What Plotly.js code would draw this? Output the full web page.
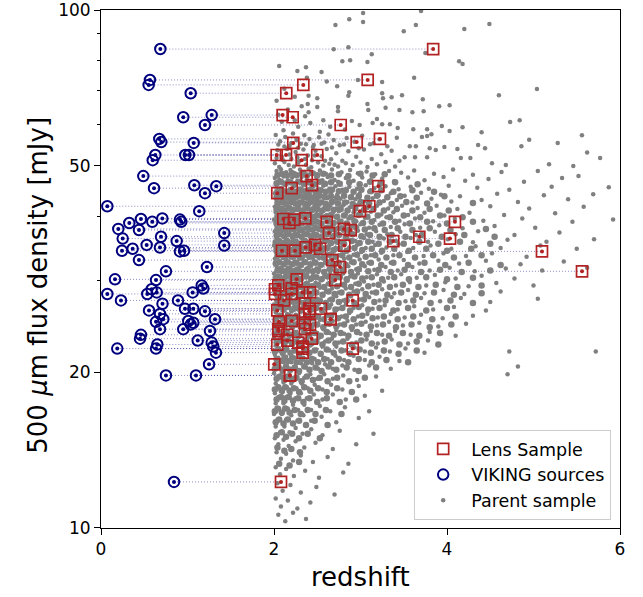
<!DOCTYPE html>
<html>
<head>
<meta charset="utf-8">
<script src="https://cdn.plot.ly/plotly-3.0.1.min.js"></script>
<style>html,body{margin:0;padding:0;background:#fff;}#chart{width:643px;height:597px;}</style>
</head>
<body>
<div id="chart"></div>
<script>
// Lens / VIKING pairs: 500um flux [mJy], lens redshift, VIKING redshift
const pairFlux = [84.1,73.3,71.7,69.1,62.7,62.1,60.0,56.4,55.6,55.4,52.5,52.5,52.5,51.3,47.8,45.9,45.7,45.3,44.3,41.8,40.9,39.6,39.5,39.4,39.0,39.0,38.8,37.8,37.6,37.1,36.5,36.2,35.8,35.2,35.1,34.8,34.6,34.3,34.3,34.2,32.9,31.9,31.3,30.2,30.1,29.4,29.0,28.9,28.5,28.5,28.3,28.3,27.5,27.5,27.1,26.5,26.5,26.3,26.2,25.9,25.3,25.3,25.0,25.1,24.9,24.7,24.2,24.2,24.0,23.6,23.2,23.0,22.8,22.6,22.4,22.2,22.2,21.8,20.7,19.7,19.7,12.27];
const lensZ = [3.84,3.083,2.339,2.142,2.10,2.216,2.771,3.225,2.956,2.223,2.031,2.139,2.50,2.32,2.378,2.439,3.206,2.205,2.038,3.102,2.994,2.362,2.108,2.231,4.092,2.609,2.177,2.809,2.887,2.636,3.68,4.035,3.379,2.474,2.813,2.366,2.532,2.092,2.243,5.098,2.674,2.763,5.561,2.262,2.709,2.05,2.205,2.012,2.327,2.416,2.205,2.012,2.116,2.91,2.358,2.408,2.543,2.038,2.408,2.358,2.655,2.655,2.058,2.205,2.358,2.416,2.05,2.358,2.05,2.154,2.436,2.154,2.281,2.038,2.332,2.91,2.332,2.332,2.003,2.185,2.185,2.081];
const vikingZ = [0.686,0.566,0.551,1.037,1.28,0.951,1.202,0.674,0.697,1.072,0.628,0.975,1.017,0.598,0.489,1.079,1.333,0.613,1.202,0.073,1.136,0.709,0.462,0.913,0.928,0.593,0.327,0.20,0.439,1.425,0.694,0.251,0.875,0.528,1.425,0.682,0.366,0.243,0.96,0.913,0.439,1.225,0.751,0.162,0.636,1.164,1.183,0.586,0.644,1.06,0.535,0.073,0.231,0.89,0.711,1.067,0.971,0.555,1.202,0.682,0.72,1.318,0.636,1.009,1.067,1.037,0.682,0.951,1.26,0.462,0.451,1.118,1.28,0.651,1.298,0.636,0.188,1.329,1.249,0.751,1.098,0.844];

// Parent sample [redshift, flux], by flux band
const parentA = [[2.71,93.6],[2.87,96],[3.03,98.7],[3.03,94.8],[3.70,99.6],[3.64,93.6],[3.50,91],[4.20,91.9],[4.49,94],[2.69,84],[2.86,84.8],[3.13,82.2],[3.75,82.6],[2.79,79.7],[2.88,80],[3.08,79.4],[4.14,79.7],[4.18,78.7],[2.06,78],[2.27,76.3],[2.37,77.6],[2.55,75.9],
[2.38,74],[2.97,73.3],[3.25,72.6],[3.62,74],[2.73,71.3],[2.87,69.4],[2.86,68.3],[3.25,69.1],[3.26,67.6],[3.36,67.9],[3.48,68.5],[3.72,67.3],[5.04,70.4],[4.60,68.5],[2.40,68.3],[2.50,67.6],[2.24,68],[2.12,70.5],[2.03,66.8],[2.61,72.8],
[2.32,65.2],[2.39,65.9],[2.50,65],[2.74,65],[2.74,63.8],[3.08,65.9],[3.09,64.1],[3.29,64.8],[3.45,64.1],[3.60,63.5],[3.73,63.8],[3.91,65.2],[4.03,65.5],[2.40,63.5],[2.36,62.4],[2.24,61.3],[2.28,59.5],[2.42,60.5],[2.57,61.3],[2.65,59.5],[2.90,61.1],[2.99,60],[3.19,61.6],[3.25,60.2],[3.14,60.5],[3.34,60.2],[3.43,59.2],[3.61,58.9],[3.77,58.9],[3.94,59.7],[4.03,58.4],[4.18,59.4],[4.73,60.8],[4.84,61.3],[4.40,58.1],[5.56,57.3],[2.05,62.8],[2.11,58.6],[2.16,64.3],[2.53,58.2],[2.82,58.8],[2.09,60.9]];
const parentB = [[5.28,55.4],[4.86,54.6],[4.36,54.9],[4.44,54.1],[5.77,51.8],[5.46,50],[5.18,50.4],[4.68,50.2],[4.52,50.6],[4.16,51.8],[4.27,51.8],[4.12,53.9],[3.97,54.4],[3.87,53.7],[3.80,54.1],[3.77,52],[3.63,52],[3.51,52],[3.57,54.6],[3.64,54.6],[3.71,56.9],[3.77,57.1],[3.82,57.6],[4.95,56.2],[5.62,53.1],
[2.02,57.4],[2.07,55.8],[2.13,56.9],[2.18,54.7],[2.22,57.8],[2.26,56.1],[2.31,55.2],[2.35,57.3],[2.41,56.4],[2.46,54.9],[2.52,56.8],[2.58,55.5],[2.63,57.5],[2.69,56.1],[2.76,54.8],[2.84,56.6],[2.93,55.7],[3.02,57.2],[3.11,55.1],[3.22,56.3],[3.31,54.6],[3.42,56.7],
[2.04,53.6],[2.09,52.1],[2.15,53.9],[2.20,51.6],[2.25,53.2],[2.29,51.1],[2.34,53.8],[2.39,52.4],[2.44,51.3],[2.48,53.5],[2.55,52.2],[2.61,53.9],[2.66,51.5],[2.72,52.9],[2.79,51.2],[2.86,53.4],[2.95,52.1],[3.04,53.8],[3.13,51.6],[3.24,52.7],[3.36,53.5],[3.45,51.2],
[2.01,50.6],[2.06,49.8],[2.12,50.9],[2.17,50.2],[2.23,49.9],[2.28,50.7],[2.37,50.3],[2.43,49.7],[2.51,50.8],[2.57,50.1],[2.64,50.5],[2.74,49.9],[2.83,50.6],[2.91,50.2],[3.00,50.8],[3.08,49.8],[3.19,50.4],[3.29,50.9],[3.40,49.9],
[2.05,55.0],[2.12,54.5],[2.20,55.4],[2.28,54.2],[2.37,55.1],[2.45,54.4],[2.55,55.2],[2.67,54.3],[2.81,55.0],[2.98,54.1],[3.15,55.3],[2.03,51.8],[2.10,51.4],[2.18,52.6],[2.27,52.0],[2.36,51.6],[2.47,52.4],[2.59,51.2],[2.70,50.3]];
const parentC = [[2.03,48.9],[2.08,49.3],[2.14,48.6],[2.19,49.1],[2.24,48.4],[2.30,49.2],[2.35,48.7],[2.40,49.4],[2.46,48.5],[2.53,49.0],[2.60,48.3],[2.67,49.2],[2.78,48.6],[2.88,49.1],[2.97,48.4],[3.07,48.8],[3.17,48.2],[3.33,48.9],[3.47,48.5],[3.62,49.0],[3.85,48.3],[4.07,49.2],[4.30,48.1],[4.63,48.7],[5.05,48.9],[5.52,47.8],
[2.01,47.4],[2.06,47.0],[2.11,47.7],[2.16,46.9],[2.21,47.5],[2.27,46.8],[2.32,47.6],[2.38,47.1],[2.43,46.7],[2.49,47.5],[2.56,46.9],[2.62,47.6],[2.70,47.0],[2.74,46.6],[2.83,47.4],[2.92,46.8],[3.02,47.5],[3.12,46.9],[3.25,47.3],[3.39,46.7],[3.55,47.5],[3.74,46.9],[3.96,47.6],[4.21,46.8],[4.48,47.2],[4.89,46.6],[5.33,47.4],
[2.03,45.8],[2.08,45.3],[2.13,46.0],[2.18,45.1],[2.23,45.7],[2.29,45.2],[2.34,45.9],[2.39,45.0],[2.45,45.6],[2.51,45.1],[2.57,45.8],[2.64,45.2],[2.71,45.7],[2.79,45.0],[2.87,45.6],[2.96,45.2],[3.06,45.9],[3.16,45.3],[3.29,45.7],[3.44,45.1],[3.58,45.6],[3.79,45.2],[4.02,45.8],[4.35,45.4],[4.72,45.0],[5.21,45.6],[5.87,45.5],
[2.01,44.3],[2.06,44.0],[2.10,44.5],[2.15,43.9],[2.20,44.4],[2.25,44.1],[2.31,44.6],[2.36,43.8],[2.41,44.3],[2.47,44.0],[2.53,44.5],[2.59,43.9],[2.66,44.4],[2.73,44.0],[2.81,44.5],[2.90,43.8],[2.99,44.2],[3.10,44.6],[3.21,43.9],[3.35,44.3],[3.51,43.8],[3.70,44.4],[3.93,44.0],[4.15,43.7],[4.58,44.2],[5.12,43.9],[5.69,44.1],
[2.03,42.9],[2.08,43.3],[2.12,42.6],[2.17,43.1],[2.22,42.7],[2.27,43.4],[2.33,42.8],[2.38,43.2],[2.44,42.6],[2.50,43.1],[2.56,42.7],[2.62,43.3],[2.69,42.8],[2.77,43.2],[2.85,42.6],[2.94,43.1],[3.04,42.7],[3.14,43.3],[3.27,42.8],[3.42,43.0],[3.60,42.5],[3.82,43.2],[4.05,42.7],[4.40,43.0],[4.82,42.6],[5.40,43.1]];
const parentD = [[2.01,41.7],[2.05,42.1],[2.10,41.5],[2.14,42.0],[2.19,41.6],[2.24,42.2],[2.29,41.8],[2.35,41.4],[2.40,42.0],[2.46,41.6],[2.52,42.1],[2.58,41.5],[2.65,41.9],[2.72,41.4],[2.80,42.0],[2.88,41.6],[2.97,42.1],[3.08,41.5],[3.19,41.9],[3.32,41.4],[3.48,41.9],[3.66,41.5],[3.88,41.9],[4.12,41.3],[4.50,41.8],[4.95,41.4],[5.58,41.7],
[2.02,40.7],[2.07,40.3],[2.11,40.9],[2.16,40.4],[2.21,40.8],[2.26,40.2],[2.32,40.7],[2.37,40.3],[2.43,40.9],[2.49,40.4],[2.55,40.8],[2.61,40.2],[2.68,40.6],[2.75,40.9],[2.83,40.3],[2.92,40.7],[3.01,40.2],[3.12,40.8],[3.24,40.3],[3.38,40.7],[3.55,40.2],[3.74,40.6],[3.97,40.1],[4.26,40.6],[4.66,40.2],[5.25,40.5],
[2.00,39.4],[2.04,39.8],[2.09,39.2],[2.13,39.7],[2.18,39.3],[2.23,39.9],[2.28,39.4],[2.34,39.8],[2.39,39.2],[2.45,39.6],[2.51,39.1],[2.57,39.7],[2.64,39.3],[2.71,39.8],[2.78,39.2],[2.86,39.6],[2.95,39.1],[3.05,39.7],[3.16,39.3],[3.30,39.8],[3.45,39.2],[3.63,39.6],[3.84,39.1],[4.09,39.5],[4.42,39.2],[4.87,39.6],[5.45,39.0],[5.92,39.4],
[2.02,38.5],[2.06,38.1],[2.11,38.6],[2.15,38.2],[2.20,38.7],[2.25,38.1],[2.30,38.5],[2.36,38.0],[2.41,38.6],[2.47,38.2],[2.53,38.7],[2.60,38.1],[2.67,38.5],[2.74,38.0],[2.82,38.6],[2.90,38.2],[3.00,38.6],[3.10,38.0],[3.22,38.5],[3.35,38.1],[3.51,38.6],[3.69,38.0],[3.91,38.4],[4.18,37.9],[4.55,38.3],[5.02,38.0],
[2.01,37.4],[2.05,37.0],[2.10,37.5],[2.14,37.1],[2.19,37.6],[2.24,37.0],[2.29,37.4],[2.34,36.9],[2.40,37.5],[2.46,37.1],[2.52,37.6],[2.58,37.0],[2.65,37.4],[2.72,36.9],[2.80,37.5],[2.88,37.1],[2.97,37.5],[3.07,36.9],[3.18,37.4],[3.31,36.9],[3.46,37.3],[3.64,36.8],[3.86,37.3],[4.10,36.9],[4.36,37.4],[4.78,36.8],[5.30,37.2],
[2.03,36.2],[2.07,35.8],[2.12,36.4],[2.16,35.9],[2.21,36.3],[2.26,35.8],[2.31,36.4],[2.37,35.9],[2.43,36.3],[2.49,35.8],[2.55,36.4],[2.62,35.9],[2.69,36.3],[2.77,35.7],[2.85,36.2],[2.94,35.8],[3.04,36.3],[3.14,35.7],[3.27,36.2],[3.41,35.8],[3.58,36.3],[3.78,35.7],[4.01,36.1],[4.30,35.6],[4.70,36.0],[5.15,35.7],[5.70,36.1],
[2.00,35.1],[2.04,34.8],[2.09,35.3],[2.13,34.9],[2.18,35.4],[2.23,34.8],[2.28,35.2],[2.33,34.7],[2.39,35.3],[2.45,34.9],[2.51,35.4],[2.57,34.8],[2.64,35.2],[2.71,34.7],[2.79,35.3],[2.87,34.8],[2.96,35.2],[3.06,34.7],[3.17,35.2],[3.30,34.8],[3.44,35.3],[3.61,34.7],[3.81,35.1],[4.05,34.6],[4.33,35.0],[4.62,34.7],[5.08,35.1],[5.50,34.6]];
const parentE = [[2.02,34.1],[2.06,33.8],[2.11,34.3],[2.15,33.9],[2.20,34.3],[2.25,33.8],[2.30,34.2],[2.36,33.7],[2.42,34.2],[2.48,33.8],[2.54,34.3],[2.61,33.7],[2.68,34.1],[2.75,33.6],[2.83,34.2],[2.92,33.7],[3.01,34.1],[3.12,33.6],[3.24,34.0],[3.38,33.6],[3.54,34.1],[3.73,33.5],[3.96,33.9],[4.22,33.5],[4.52,33.9],[4.92,33.4],
[2.01,33.1],[2.05,32.7],[2.10,33.2],[2.14,32.8],[2.19,33.3],[2.24,32.7],[2.29,33.1],[2.34,32.6],[2.40,33.2],[2.46,32.8],[2.52,33.2],[2.59,32.6],[2.66,33.0],[2.73,32.5],[2.81,33.1],[2.89,32.6],[2.99,33.0],[3.09,32.5],[3.21,33.0],[3.35,32.5],[3.50,32.9],[3.68,32.4],[3.90,32.8],[4.14,32.4],[4.45,32.8],[4.85,32.3],[5.35,32.7],
[2.03,32.0],[2.07,31.7],[2.12,32.2],[2.16,31.8],[2.21,32.2],[2.26,31.7],[2.31,32.1],[2.37,31.6],[2.43,32.1],[2.49,31.7],[2.56,32.2],[2.63,31.6],[2.70,32.0],[2.78,31.5],[2.86,32.0],[2.95,31.6],[3.05,32.0],[3.16,31.5],[3.29,31.9],[3.43,31.4],[3.60,31.9],[3.80,31.4],[4.03,31.8],[4.32,31.3],[4.68,31.7],[5.10,31.4],[5.62,31.8],
[2.00,31.0],[2.04,30.7],[2.09,31.2],[2.13,30.8],[2.18,31.2],[2.23,30.7],[2.28,31.1],[2.33,30.6],[2.39,31.1],[2.45,30.7],[2.51,31.2],[2.58,30.6],[2.65,31.0],[2.72,30.5],[2.80,31.0],[2.88,30.6],[2.97,31.0],[3.07,30.5],[3.19,30.9],[3.32,30.4],[3.47,30.9],[3.65,30.4],[3.86,30.8],[4.10,30.3],[4.40,30.7],[4.78,30.3],
[2.02,30.0],[2.06,29.7],[2.11,30.2],[2.15,29.8],[2.20,30.2],[2.25,29.7],[2.30,30.1],[2.36,29.6],[2.42,30.1],[2.48,29.7],[2.55,30.1],[2.62,29.6],[2.69,30.0],[2.77,29.5],[2.85,30.0],[2.94,29.6],[3.04,29.9],[3.15,29.5],[3.27,29.9],[3.41,29.4],[3.57,29.8],[3.76,29.4],[3.98,29.8],[4.25,29.3],[4.57,29.7],[5.00,29.4],
[2.01,29.1],[2.05,28.7],[2.10,29.2],[2.14,28.8],[2.19,29.2],[2.24,28.7],[2.29,29.1],[2.34,28.6],[2.40,29.1],[2.46,28.7],[2.53,29.1],[2.60,28.6],[2.67,29.0],[2.75,28.5],[2.83,29.0],[2.92,28.6],[3.02,28.9],[3.13,28.5],[3.25,28.9],[3.39,28.4],[3.55,28.8],[3.74,28.4],[3.96,28.8],[4.20,28.3],[4.62,28.6],
[2.03,28.0],[2.07,27.7],[2.12,28.2],[2.16,27.8],[2.21,28.2],[2.26,27.7],[2.31,28.1],[2.37,27.6],[2.43,28.1],[2.50,27.7],[2.57,28.1],[2.64,27.6],[2.72,28.0],[2.80,27.5],[2.89,28.0],[2.99,27.6],[3.10,27.9],[3.22,27.5],[3.36,27.9],[3.52,27.4],[3.70,27.8],[3.92,27.4],[4.16,27.8],[4.50,27.3],[5.05,27.7],
[2.00,27.0],[2.04,26.7],[2.09,27.2],[2.13,26.8],[2.18,27.2],[2.23,26.7],[2.28,27.1],[2.33,26.6],[2.39,27.1],[2.45,26.7],[2.52,27.1],[2.59,26.6],[2.66,27.0],[2.74,26.5],[2.83,27.0],[2.92,26.6],[3.02,26.9],[3.14,26.5],[3.28,26.9],[3.43,26.4],[3.62,26.8],[3.84,26.4],[4.08,26.7],[4.45,26.3]];
const parentF = [[2.02,26.1],[2.06,25.8],[2.11,26.3],[2.15,25.9],[2.20,26.2],[2.25,25.8],[2.30,26.2],[2.36,25.7],[2.42,26.2],[2.48,25.8],[2.55,26.2],[2.62,25.7],[2.70,26.0],[2.78,25.6],[2.87,26.0],[2.97,25.6],[3.08,25.9],[3.20,25.5],[3.35,25.9],[3.51,25.5],[3.70,25.8],[3.95,25.4],[4.30,25.7],
[2.01,25.2],[2.05,24.9],[2.10,25.3],[2.14,24.9],[2.19,25.3],[2.24,24.8],[2.29,25.2],[2.34,24.8],[2.40,25.2],[2.46,24.8],[2.53,25.2],[2.60,24.7],[2.68,25.1],[2.76,24.7],[2.85,25.1],[2.95,24.7],[3.06,25.0],[3.19,24.6],[3.33,25.0],[3.49,24.6],[3.68,24.9],[3.90,24.5],[4.22,24.8],
[2.03,24.2],[2.07,23.9],[2.12,24.3],[2.16,24.0],[2.21,24.4],[2.26,23.9],[2.31,24.3],[2.37,23.8],[2.43,24.2],[2.50,23.8],[2.57,24.2],[2.64,23.8],[2.72,24.1],[2.81,23.7],[2.90,24.1],[3.00,23.7],[3.12,24.0],[3.25,23.6],[3.40,24.0],[3.58,23.6],[3.80,23.9],[4.10,23.5],
[2.00,23.3],[2.04,23.0],[2.09,23.4],[2.13,23.1],[2.18,23.5],[2.23,23.0],[2.28,23.4],[2.33,22.9],[2.39,23.3],[2.45,22.9],[2.52,23.3],[2.59,22.9],[2.67,23.2],[2.75,22.8],[2.85,23.2],[2.95,22.8],[3.07,23.1],[3.20,22.7],[3.36,23.1],[3.55,22.7],[3.78,23.0],
[2.02,22.5],[2.06,22.2],[2.11,22.6],[2.15,22.2],[2.20,22.6],[2.25,22.1],[2.30,22.5],[2.36,22.1],[2.42,22.5],[2.49,22.1],[2.56,22.4],[2.64,22.0],[2.72,22.4],[2.82,22.0],[2.93,22.3],[3.05,21.9],[3.18,22.3],[3.34,21.9],[3.52,22.2],[3.74,21.8],[4.72,21.9],[5.72,21.9],
[2.01,21.6],[2.05,21.3],[2.10,21.7],[2.14,21.4],[2.19,21.8],[2.24,21.3],[2.29,21.7],[2.34,21.3],[2.40,21.6],[2.47,21.2],[2.54,21.6],[2.62,21.2],[2.71,21.5],[2.81,21.1],[2.92,21.5],[3.05,21.1],[3.22,21.4],[3.45,21.0]];
const parentG = [[2.02,20.8],[2.06,20.5],[2.11,20.9],[2.15,20.5],[2.20,20.9],[2.25,20.4],[2.31,20.8],[2.37,20.4],[2.44,20.8],[2.51,20.3],[2.59,20.7],[2.68,20.3],[2.79,20.6],[2.93,20.2],[3.10,20.6],[3.35,20.3],[4.82,20.5],
[2.00,19.9],[2.04,19.6],[2.09,20.0],[2.13,19.6],[2.18,20.0],[2.23,19.5],[2.29,19.9],[2.35,19.5],[2.42,19.8],[2.50,19.4],[2.58,19.8],[2.68,19.4],[2.80,19.7],[2.96,19.3],[3.18,19.6],[4.70,19.8],
[2.02,19.0],[2.06,18.7],[2.11,19.1],[2.15,18.7],[2.20,19.0],[2.26,18.6],[2.32,19.0],[2.39,18.6],[2.47,18.9],[2.56,18.5],[2.66,18.9],[2.79,18.5],[2.98,18.8],[3.25,18.4],
[2.01,18.2],[2.05,17.9],[2.10,18.3],[2.14,17.9],[2.19,18.2],[2.25,17.8],[2.31,18.2],[2.38,17.8],[2.46,18.1],[2.56,17.7],[2.68,18.1],[2.83,17.7],[3.05,18.0],
[2.02,17.4],[2.06,17.0],[2.11,17.4],[2.16,17.0],[2.22,17.3],[2.28,16.9],[2.35,17.3],[2.43,16.9],[2.53,17.2],[2.65,16.8],[2.82,17.1],[3.10,16.8],
[2.00,16.6],[2.04,16.2],[2.09,16.6],[2.14,16.2],[2.20,16.5],[2.27,16.1],[2.34,16.5],[2.43,16.1],[2.55,16.4],[2.72,16.0],[2.98,16.3],
[2.02,15.7],[2.07,15.3],[2.12,15.7],[2.18,15.3],[2.25,15.6],[2.33,15.2],[2.43,15.5],[2.56,15.1],[2.76,15.4],[3.15,15.2],
[2.01,14.9],[2.05,14.5],[2.11,14.8],[2.17,14.4],[2.25,14.7],[2.35,14.3],[2.48,14.6],[2.68,14.2],[2.95,14.5],
[2.03,14.0],[2.08,13.6],[2.14,13.9],[2.22,13.5],[2.31,13.8],[2.45,13.4],[2.62,13.7],[2.86,13.3],
[2.02,13.1],[2.07,12.7],[2.14,13.0],[2.23,12.6],[2.36,12.9],[2.52,12.5],[2.80,12.8],
[2.04,12.2],[2.10,11.8],[2.19,12.1],[2.31,11.7],[2.49,12.0],[2.70,11.6],
[2.02,11.4],[2.08,11.0],[2.16,11.3],[2.27,10.9],[2.42,11.2],
[2.05,10.6],[2.13,10.3],[2.22,10.7],[2.37,10.4]];
// dense core of the parent sample (z ~2-3.5), read as an almost solid patch
const parentCore1 = [[2.04,48.0],[2.09,48.3],[2.15,47.9],[2.21,48.4],[2.26,48.0],[2.32,48.3],[2.38,47.9],[2.44,48.4],[2.50,48.0],[2.57,48.3],[2.66,47.9],[2.75,48.2],[2.86,47.8],[3.00,48.3],[3.14,47.9],[3.28,48.2],
[2.03,46.3],[2.08,46.6],[2.13,46.2],[2.19,46.5],[2.24,46.1],[2.30,46.6],[2.35,46.2],[2.41,46.5],[2.47,46.1],[2.53,46.6],[2.59,46.2],[2.66,46.5],[2.76,46.2],[2.87,46.5],[2.99,46.1],[3.11,46.6],[3.23,46.2],[3.40,46.5],[3.66,46.1],
[2.04,44.7],[2.09,45.0],[2.14,44.6],[2.20,44.9],[2.25,44.6],[2.31,45.0],[2.36,44.7],[2.42,45.0],[2.48,44.6],[2.54,44.9],[2.60,44.6],[2.67,45.0],[2.75,44.7],[2.83,44.9],[2.92,44.6],[3.01,45.0],[3.12,44.7],[3.24,44.9],[3.38,44.6],[3.60,44.9],[3.85,44.6],
[2.03,43.5],[2.08,43.8],[2.13,43.4],[2.19,43.7],[2.24,43.4],[2.30,43.8],[2.35,43.5],[2.41,43.7],[2.47,43.4],[2.53,43.8],[2.59,43.5],[2.66,43.7],[2.73,43.4],[2.81,43.8],[2.89,43.5],[2.98,43.7],[3.08,43.4],[3.19,43.8],[3.31,43.5],[3.46,43.7],[3.65,43.4],[3.97,43.7],
[2.04,42.3],[2.09,42.5],[2.14,42.2],[2.20,42.6],[2.25,42.3],[2.30,42.5],[2.36,42.2],[2.42,42.6],[2.48,42.3],[2.54,42.5],[2.60,42.2],[2.67,42.6],[2.74,42.3],[2.82,42.5],[2.91,42.2],[3.00,42.6],[3.10,42.3],[3.22,42.5],[3.36,42.2],[3.53,42.6],[3.77,42.3],[4.30,42.4],
[2.03,41.1],[2.08,41.3],[2.12,41.0],[2.17,41.4],[2.22,41.1],[2.27,41.3],[2.33,41.0],[2.38,41.4],[2.44,41.1],[2.50,41.3],[2.56,41.0],[2.62,41.4],[2.69,41.1],[2.77,41.3],[2.85,41.0],[2.94,41.4],[3.04,41.1],[3.15,41.3],[3.27,41.0],[3.42,41.3],[3.60,41.0],[3.80,41.3],[4.02,41.0],
[2.04,40.0],[2.09,40.2],[2.14,39.9],[2.19,40.2],[2.24,39.9],[2.30,40.1],[2.35,39.8],[2.41,40.2],[2.47,39.9],[2.53,40.1],[2.59,39.8],[2.66,40.2],[2.73,39.9],[2.81,40.1],[2.89,39.8],[2.98,40.2],[3.08,39.9],[3.20,40.1],[3.34,39.8],[3.50,40.1],[3.69,39.8],[3.92,40.1],[4.18,39.8],
[2.03,38.9],[2.07,39.1],[2.12,38.8],[2.16,39.1],[2.21,38.8],[2.27,39.0],[2.32,38.7],[2.38,39.1],[2.43,38.8],[2.49,39.0],[2.55,38.7],[2.62,39.1],[2.69,38.8],[2.76,39.0],[2.84,38.7],[2.93,39.1],[3.03,38.8],[3.13,39.0],[3.26,38.7],[3.40,39.0],[3.57,38.7],[3.77,39.0],[4.00,38.7],[4.30,39.0],
[2.04,37.8],[2.08,38.0],[2.13,37.7],[2.18,38.0],[2.23,37.7],[2.28,37.9],[2.33,37.6],[2.39,38.0],[2.44,37.7],[2.50,37.9],[2.56,37.6],[2.63,38.0],[2.70,37.7],[2.78,37.9],[2.86,37.6],[2.95,38.0],[3.05,37.7],[3.16,37.9],[3.28,37.6],[3.43,37.9],[3.60,37.6],[3.80,37.9],[4.04,37.6],[4.45,37.8],
[2.03,36.7],[2.07,36.9],[2.12,36.6],[2.17,36.9],[2.22,36.6],[2.27,36.8],[2.32,36.5],[2.38,36.9],[2.43,36.6],[2.49,36.8],[2.55,36.5],[2.61,36.9],[2.68,36.6],[2.75,36.8],[2.83,36.5],[2.91,36.9],[3.01,36.6],[3.11,36.8],[3.22,36.5],[3.36,36.8],[3.52,36.5],[3.71,36.8],[3.94,36.5],[4.20,36.8],[4.55,36.5],
[2.02,35.6],[2.06,35.8],[2.11,35.5],[2.15,35.8],[2.20,35.5],[2.25,35.7],[2.30,35.4],[2.35,35.8],[2.41,35.5],[2.47,35.7],[2.53,35.4],[2.59,35.8],[2.66,35.5],[2.73,35.7],[2.81,35.4],[2.90,35.8],[2.99,35.5],[3.09,35.7],[3.21,35.4],[3.34,35.7],[3.50,35.4],[3.68,35.7],[3.90,35.4],[4.15,35.7],[4.50,35.4],
[2.03,34.5],[2.07,34.7],[2.11,34.4],[2.16,34.7],[2.21,34.4],[2.26,34.6],[2.31,34.3],[2.37,34.7],[2.43,34.4],[2.49,34.6],[2.55,34.3],[2.62,34.7],[2.69,34.4],[2.76,34.6],[2.84,34.3],[2.93,34.7],[3.02,34.4],[3.13,34.6],[3.25,34.3],[3.39,34.6],[3.56,34.3],[3.76,34.6],[4.00,34.3],[4.28,34.6]];
const parentCore2 = [[2.04,33.5],[2.08,33.7],[2.13,33.4],[2.17,33.7],[2.22,33.4],[2.27,33.6],[2.32,33.3],[2.38,33.7],[2.44,33.4],[2.50,33.6],[2.57,33.3],[2.64,33.7],[2.71,33.4],[2.79,33.6],[2.87,33.3],[2.96,33.7],[3.06,33.4],[3.17,33.6],[3.30,33.3],[3.45,33.6],[3.63,33.3],[3.84,33.6],[4.08,33.3],[4.40,33.6],
[2.02,32.4],[2.06,32.6],[2.11,32.3],[2.16,32.6],[2.21,32.3],[2.26,32.5],[2.31,32.2],[2.36,32.6],[2.42,32.3],[2.48,32.5],[2.54,32.2],[2.61,32.6],[2.68,32.3],[2.75,32.5],[2.83,32.2],[2.92,32.6],[3.02,32.3],[3.12,32.5],[3.24,32.2],[3.38,32.5],[3.55,32.2],[3.74,32.5],[3.98,32.2],[4.25,32.5],[4.62,32.2],
[2.04,31.4],[2.08,31.6],[2.13,31.3],[2.18,31.6],[2.23,31.3],[2.28,31.5],[2.33,31.2],[2.39,31.6],[2.45,31.3],[2.51,31.5],[2.58,31.2],[2.65,31.6],[2.72,31.3],[2.80,31.5],[2.89,31.2],[2.98,31.6],[3.09,31.3],[3.21,31.5],[3.35,31.2],[3.51,31.5],[3.70,31.2],[3.92,31.5],[4.17,31.2],[4.50,31.4],
[2.02,30.4],[2.06,30.6],[2.11,30.3],[2.16,30.6],[2.21,30.3],[2.26,30.5],[2.31,30.2],[2.37,30.6],[2.43,30.3],[2.49,30.5],[2.55,30.2],[2.62,30.6],[2.69,30.3],[2.76,30.5],[2.84,30.2],[2.93,30.6],[3.02,30.3],[3.13,30.5],[3.25,30.2],[3.39,30.5],[3.56,30.2],[3.76,30.5],[4.00,30.2],[4.30,30.4],
[2.03,29.4],[2.07,29.6],[2.12,29.3],[2.17,29.6],[2.22,29.3],[2.27,29.5],[2.32,29.2],[2.38,29.6],[2.44,29.3],[2.51,29.5],[2.58,29.2],[2.65,29.6],[2.73,29.3],[2.81,29.5],[2.89,29.2],[2.98,29.6],[3.09,29.3],[3.21,29.5],[3.34,29.2],[3.49,29.5],[3.67,29.2],[3.87,29.5],[4.12,29.2],[4.40,29.4],
[2.02,28.4],[2.06,28.6],[2.11,28.3],[2.16,28.6],[2.21,28.3],[2.26,28.5],[2.31,28.2],[2.37,28.6],[2.43,28.3],[2.49,28.5],[2.56,28.2],[2.63,28.6],[2.70,28.3],[2.78,28.5],[2.87,28.2],[2.96,28.6],[3.06,28.3],[3.18,28.5],[3.31,28.2],[3.47,28.5],[3.64,28.2],[3.85,28.5],[4.08,28.2],[4.40,28.4],
[2.04,27.4],[2.08,27.6],[2.13,27.3],[2.18,27.6],[2.23,27.3],[2.28,27.5],[2.34,27.2],[2.40,27.6],[2.46,27.3],[2.53,27.5],[2.60,27.2],[2.67,27.6],[2.75,27.3],[2.84,27.5],[2.93,27.2],[3.04,27.6],[3.16,27.3],[3.29,27.5],[3.44,27.2],[3.61,27.5],[3.81,27.2],[4.04,27.5],[4.30,27.2],
[2.02,26.5],[2.06,26.7],[2.11,26.4],[2.16,26.7],[2.21,26.4],[2.26,26.6],[2.31,26.3],[2.37,26.7],[2.43,26.4],[2.49,26.6],[2.56,26.3],[2.63,26.7],[2.71,26.4],[2.79,26.6],[2.88,26.3],[2.98,26.7],[3.09,26.4],[3.22,26.6],[3.38,26.3],[3.55,26.6],[3.76,26.3],[4.00,26.6],
[2.03,25.5],[2.08,25.7],[2.13,25.4],[2.17,25.7],[2.22,25.4],[2.27,25.6],[2.33,25.3],[2.39,25.7],[2.45,25.4],[2.51,25.6],[2.58,25.3],[2.66,25.7],[2.74,25.4],[2.83,25.6],[2.92,25.3],[3.02,25.7],[3.14,25.4],[3.27,25.6],[3.43,25.3],[3.61,25.6],[3.83,25.3],[4.10,25.6],
[2.02,24.6],[2.07,24.8],[2.12,24.5],[2.16,24.8],[2.21,24.5],[2.26,24.7],[2.32,24.4],[2.37,24.8],[2.43,24.5],[2.50,24.7],[2.57,24.4],[2.64,24.8],[2.72,24.5],[2.81,24.7],[2.90,24.4],[3.01,24.8],[3.12,24.5],[3.26,24.7],[3.41,24.4],[3.59,24.7],[3.80,24.4],[4.05,24.7],
[2.01,23.7],[2.05,23.9],[2.10,23.6],[2.14,23.9],[2.19,23.6],[2.24,23.8],[2.29,23.5],[2.35,23.9],[2.41,23.6],[2.47,23.8],[2.54,23.5],[2.61,23.9],[2.69,23.6],[2.77,23.8],[2.86,23.5],[2.96,23.9],[3.07,23.6],[3.19,23.8],[3.33,23.5],[3.49,23.8],[3.68,23.5],[3.92,23.8],
[2.03,22.8],[2.07,23.0],[2.12,22.7],[2.16,23.0],[2.21,22.7],[2.26,22.9],[2.31,22.6],[2.37,23.0],[2.43,22.7],[2.49,22.9],[2.56,22.6],[2.63,23.0],[2.71,22.7],[2.80,22.9],[2.90,22.6],[3.01,23.0],[3.13,22.7],[3.28,22.9],[3.45,22.6],[3.65,22.9],[3.90,22.6]];
const parentCore3 = [[2.01,21.9],[2.05,22.1],[2.10,21.8],[2.14,22.1],[2.19,21.8],[2.24,22.0],[2.29,21.7],[2.35,22.1],[2.41,21.8],[2.47,22.0],[2.54,21.7],[2.61,22.1],[2.69,21.8],[2.78,22.0],[2.88,21.7],[2.99,22.1],[3.12,21.8],[3.27,22.0],[3.44,21.7],[3.65,22.0],
[2.03,21.2],[2.07,21.0],[2.12,21.3],[2.16,21.0],[2.21,21.3],[2.26,20.9],[2.32,21.2],[2.38,20.9],[2.44,21.2],[2.51,20.9],[2.58,21.2],[2.66,20.9],[2.75,21.2],[2.86,20.9],[2.98,21.2],[3.13,20.9],[3.30,21.1],[3.55,20.9],
[2.01,20.3],[2.05,20.5],[2.10,20.2],[2.14,20.5],[2.19,20.2],[2.24,20.4],[2.29,20.1],[2.35,20.5],[2.41,20.2],[2.48,20.4],[2.55,20.1],[2.63,20.5],[2.72,20.2],[2.84,20.4],[2.98,20.1],[3.18,20.4],
[2.03,19.4],[2.07,19.6],[2.12,19.3],[2.16,19.6],[2.21,19.3],[2.26,19.5],[2.32,19.2],[2.38,19.6],[2.45,19.3],[2.53,19.5],[2.62,19.2],[2.73,19.5],[2.87,19.2],[3.05,19.5],
[2.01,18.5],[2.05,18.7],[2.09,18.4],[2.13,18.7],[2.18,18.4],[2.23,18.6],[2.29,18.3],[2.35,18.7],[2.42,18.4],[2.51,18.6],[2.61,18.3],[2.73,18.6],[2.90,18.3],
[2.03,17.7],[2.08,17.9],[2.12,17.6],[2.17,17.9],[2.22,17.6],[2.28,17.8],[2.34,17.5],[2.41,17.8],[2.50,17.5],[2.61,17.8],[2.76,17.5],[2.95,17.7],
[2.01,16.8],[2.04,17.0],[2.09,16.7],[2.13,17.0],[2.18,16.7],[2.24,16.9],[2.31,16.6],[2.39,16.9],[2.48,16.6],[2.60,16.9],[2.78,16.6],
[2.02,16.0],[2.06,16.2],[2.11,15.9],[2.16,16.2],[2.22,15.9],[2.29,16.1],[2.37,15.8],[2.47,16.1],[2.62,15.8],
[2.03,15.1],[2.09,15.3],[2.14,15.0],[2.21,15.2],[2.29,14.9],[2.39,15.2],[2.53,14.9],
[2.04,14.3],[2.12,14.1],[2.20,14.2],[2.30,14.0],[2.06,13.3],[2.18,13.2],[2.29,13.4]];

const xTickVals = [0,2,4,6];
const yTickVals = [10,20,50,100];
const yMinorVals = [30,40,60,70,80,90];

const parentBands = [].concat(parentA, parentB, parentC, parentD, parentE, parentF, parentG);
const parentCore = [].concat(parentCore1, parentCore2, parentCore3);

const lensColor = '#b22222';
const vikColor = '#00007f';
const greyColor = '#808080';
const FONT = 'DejaVu Sans, Liberation Sans, sans-serif';

// connecting dotted lines
const lx = [], ly = [];
pairFlux.forEach((f, i) => { lx.push(vikingZ[i], lensZ[i], null); ly.push(f, f, null); });

const traces = [
  {x: lx, y: ly, mode: 'lines', type: 'scatter', showlegend: false, hoverinfo: 'skip',
   line: {color: 'rgba(0,0,128,0.45)', width: 1, dash: '1px,2px'}},
  {x: parentCore.map(p => p[0]), y: parentCore.map(p => p[1]), mode: 'markers', type: 'scatter',
   showlegend: false, marker: {color: greyColor, size: 6.5, line: {width: 0}}},
  {x: parentBands.map(p => p[0]), y: parentBands.map(p => p[1]), mode: 'markers', type: 'scatter',
   name: 'Parent sample', legendrank: 3, legendgroup: 'c',
   marker: {color: greyColor, size: 4.5, line: {width: 0}}},
  {x: lensZ, y: pairFlux, mode: 'markers', type: 'scatter', name: 'Lens Sample', legendrank: 1, legendgroup: 'a',
   marker: {symbol: 'square-open', color: lensColor, size: 11, line: {width: 1.7, color: lensColor}}},
  {x: lensZ, y: pairFlux, mode: 'markers', type: 'scatter', showlegend: false,
   marker: {color: lensColor, size: 4}},
  {x: vikingZ, y: pairFlux, mode: 'markers', type: 'scatter', name: 'VIKING sources', legendrank: 2, legendgroup: 'b',
   marker: {symbol: 'circle-open', color: vikColor, size: 10.5, line: {width: 2, color: vikColor}}},
  {x: vikingZ, y: pairFlux, mode: 'markers', type: 'scatter', showlegend: false,
   marker: {color: vikColor, size: 4}}
];

const layout = {
  width: 643, height: 597,
  margin: {l: 101, r: 23, t: 10, b: 69},
  paper_bgcolor: '#fff', plot_bgcolor: '#fff',
  font: {family: FONT, color: '#000', size: 17},
  showlegend: true,
  xaxis: {range: [0, 6], tickvals: xTickVals, ticktext: xTickVals.map(String), ticks: 'outside', ticklen: 6, tickwidth: 1,
          tickcolor: '#000', showline: true, linecolor: '#000', linewidth: 1, mirror: true, showgrid: false, zeroline: false,
          tickfont: {size: 17, family: FONT}},
  yaxis: {type: 'log', range: [0.9998, 2.0002], tickvals: yTickVals, ticktext: yTickVals.map(String), ticks: 'outside', ticklen: 6, tickwidth: 1,
          tickcolor: '#000', showline: true, linecolor: '#000', linewidth: 1, mirror: true, showgrid: false, zeroline: false,
          tickfont: {size: 17, family: FONT},
          minor: {tickvals: yMinorVals, ticks: 'outside', ticklen: 3.5, tickwidth: 1, tickcolor: '#000', showgrid: false}},
  legend: {x: 0.983, y: 0.0155, xanchor: 'right', yanchor: 'bottom', bgcolor: 'rgba(255,255,255,0.85)',
           bordercolor: '#cccccc', borderwidth: 1, font: {size: 17.5, family: FONT}, tracegroupgap: 0, traceorder: 'grouped',
           itemwidth: 46},
  annotations: [
    {text: 'redshift', xref: 'paper', yref: 'paper', x: 0.5, y: -0.095, xanchor: 'center', yanchor: 'middle', showarrow: false,
     font: {size: 26, family: FONT}},
    {text: '500 <i>μ</i>m flux density [mJy]', xref: 'paper', yref: 'paper', x: -0.122, y: 0.469, xanchor: 'center', yanchor: 'middle',
     textangle: -90, showarrow: false, font: {size: 26, family: FONT}}
  ]
};

Plotly.newPlot('chart', traces, layout, {displayModeBar: false, staticPlot: true});
</script>
</body>
</html>
